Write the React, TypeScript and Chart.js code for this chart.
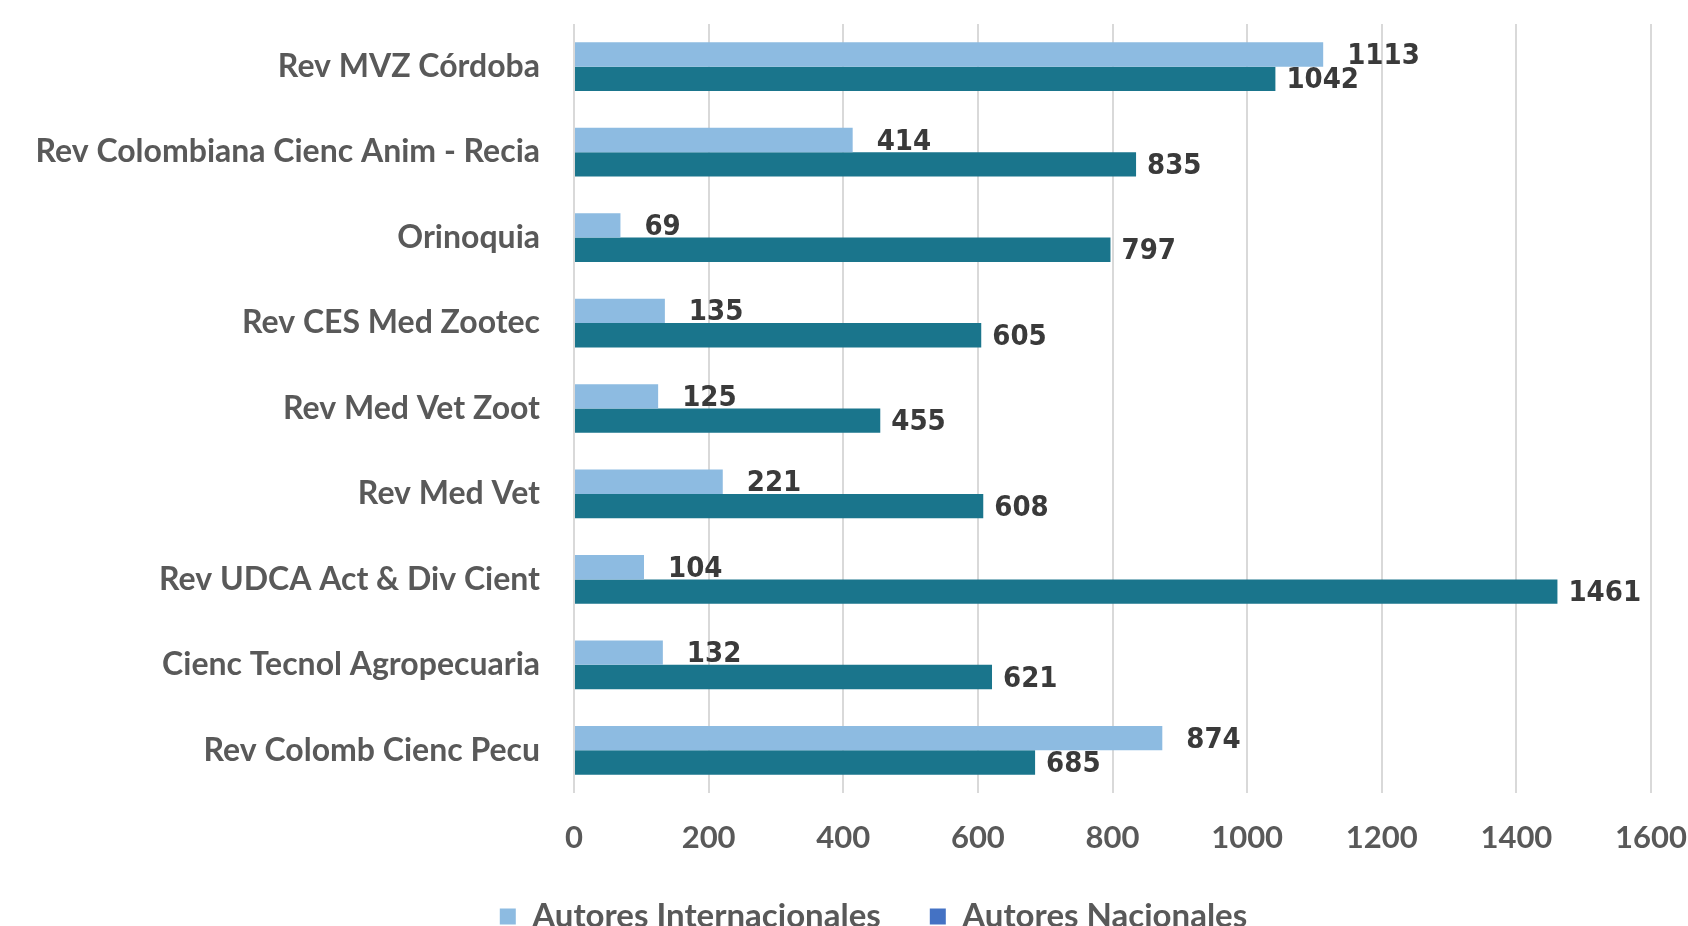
import React, { useEffect, useRef } from "react";
import { Chart, registerables } from "chart.js";

Chart.register(...registerables);

const categories = [
  "Rev MVZ Córdoba",
  "Rev Colombiana Cienc Anim - Recia",
  "Orinoquia",
  "Rev CES Med Zootec",
  "Rev Med Vet Zoot",
  "Rev Med Vet",
  "Rev UDCA Act & Div Cient",
  "Cienc Tecnol Agropecuaria",
  "Rev Colomb Cienc Pecu",
];
const internacionales = [1113, 414, 69, 135, 125, 221, 104, 132, 874];
const nacionales = [1042, 835, 797, 605, 455, 608, 1461, 621, 685];
const seriesNames = ["Autores Internacionales", "Autores Nacionales"];
const xMin = 0;
const xMax = 1600;
const xStep = 200;

const barColors = ["#8DBBE1", "#1A758C"];
const legendColors = ["#8DBBE1", "#4472C4"];
const labelOffsets = [24, 11];

const valueLabels = {
  id: "valueLabels",
  afterDatasetsDraw(chart: any) {
    const ctx = chart.ctx;
    chart.data.datasets.forEach((ds: any, di: number) => {
      const meta = chart.getDatasetMeta(di);
      meta.data.forEach((bar: any, i: number) => {
        ctx.save();
        ctx.font = "bold 29px 'DejaVu Sans Condensed', 'DejaVu Sans'";
        ctx.fillStyle = "#3A3A3A";
        ctx.textAlign = "left";
        ctx.textBaseline = "middle";
        ctx.fillText(String(ds.data[i]), bar.x + labelOffsets[di], bar.y + 2);
        ctx.restore();
      });
    });
  },
};

// shift the legend's horizontal band so its centred items sit where the reference has them
const legendShift = {
  id: "legendShift",
  afterLayout(chart: any) {
    if (chart.legend) chart.legend.left = 96;
  },
};

export default function App() {
  const ref = useRef<HTMLCanvasElement>(null);
  useEffect(() => {
    if (!ref.current) return;
    const chart = new Chart(ref.current, {
      type: "bar",
      data: {
        labels: categories,
        datasets: [
          {
            label: seriesNames[0],
            data: internacionales,
            backgroundColor: barColors[0],
            borderWidth: 0,
            categoryPercentage: 0.57,
            barPercentage: 1,
          },
          {
            label: seriesNames[1],
            data: nacionales,
            backgroundColor: barColors[1],
            borderWidth: 0,
            categoryPercentage: 0.57,
            barPercentage: 1,
          },
        ],
      },
      options: {
        indexAxis: "y",
        animation: false,
        responsive: false,
        maintainAspectRatio: false,
        layout: { padding: { top: 24, right: 37, left: 0, bottom: 0 } },
        scales: {
          x: {
            min: xMin,
            max: xMax,
            ticks: {
              stepSize: xStep,
              color: "#595959",
              font: { family: "Lato", size: 31, weight: "bold" },
              padding: 26,
              maxRotation: 0,
              callback: (v: any) => String(v),
            },
            grid: { color: "#D9D9D9", lineWidth: 2, drawTicks: false },
            border: { display: false },
            afterFit(scale: any) {
              scale.height = 58;
              scale.paddingLeft = 0;
              scale.paddingRight = 0;
            },
          },
          y: {
            ticks: {
              color: "#595959",
              font: { family: "Lato", size: 32, weight: "bold" },
              padding: 34,
            },
            grid: { display: false, drawTicks: false },
            border: { display: false },
            afterFit(scale: any) {
              scale.width = 574;
              scale.paddingTop = 0;
              scale.paddingBottom = 0;
            },
          },
        },
        plugins: {
          tooltip: { enabled: false },
          legend: {
            position: "bottom",
            labels: {
              boxWidth: 16,
              boxHeight: 16,
              padding: 49,
              color: "#595959",
              font: { family: "Lato", size: 33, weight: "bold" },
              generateLabels(chart: any) {
                return chart.data.datasets.map((ds: any, i: number) => ({
                  text: ds.label,
                  fillStyle: legendColors[i],
                  strokeStyle: legendColors[i],
                  lineWidth: 0,
                  hidden: false,
                  datasetIndex: i,
                  fontColor: "#595959",
                }));
              },
            },
          },
        },
      },
      plugins: [valueLabels, legendShift],
    });
    return () => chart.destroy();
  }, []);
  return (
    <div style={{ position: "fixed", left: 0, top: 0, width: 1688, height: 943, background: "#fff" }}>
      <canvas ref={ref} width={1688} height={943} style={{ width: 1688, height: 943, display: "block" }} />
    </div>
  );
}
